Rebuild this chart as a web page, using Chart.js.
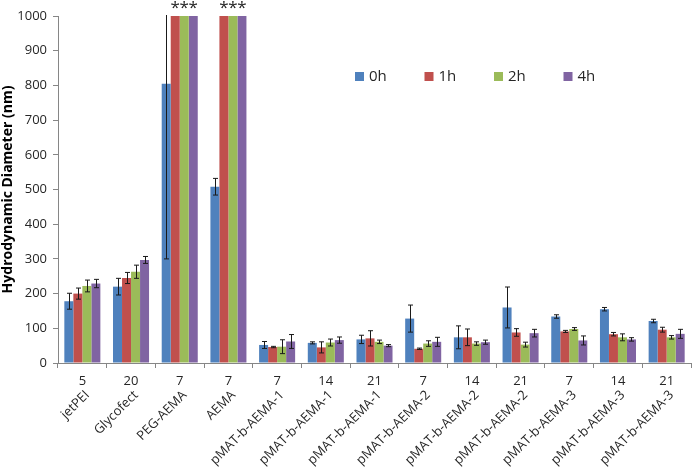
<!DOCTYPE html>
<html>
<head>
<meta charset="utf-8">
<title>Hydrodynamic Diameter</title>
<script src="https://cdn.jsdelivr.net/npm/chart.js"></script>
<style>
  html, body { margin: 0; padding: 0; background: #fff; }
  #wrap { width: 692px; height: 470px; }
</style>
</head>
<body>
<div id="wrap"><canvas id="grafico" width="692" height="470"></canvas></div>
<script>
// dados
const categorias = ['jetPEI', 'Glycofect', 'PEG-AEMA', 'AEMA',
  'pMAT-b-AEMA-1', 'pMAT-b-AEMA-1', 'pMAT-b-AEMA-1',
  'pMAT-b-AEMA-2', 'pMAT-b-AEMA-2', 'pMAT-b-AEMA-2',
  'pMAT-b-AEMA-3', 'pMAT-b-AEMA-3', 'pMAT-b-AEMA-3'];
const razoes = ['5', '20', '7', '7', '7', '14', '21', '7', '14', '21', '7', '14', '21'];

const h0 = [178, 220, 805, 508, 52, 58, 68, 128, 74, 160, 134, 155, 121];
const h1 = [200, 245, 1000, 1000, 46, 45, 71, 41, 74, 88, 91, 83, 96];
const h2 = [222, 263, 1000, 1000, 47, 59, 61, 56, 56, 53, 98, 74, 74];
const h4 = [229, 297, 1000, 1000, 62, 66, 50, 61, 60, 86, 65, 68, 84];

const e0 = [23, 24, 505, 24, 10, 3, 12, 39, 33, 59, 5, 5, 5];
const e1 = [16, 16, 0, 0, 2, 16, 22, 2, 24, 11, 3, 5, 7];
const e2 = [17, 19, 0, 0, 20, 10, 5, 8, 5, 7, 4, 10, 5];
const e4 = [12, 10, 0, 0, 20, 9, 3, 13, 6, 11, 13, 5, 13];

const yTicks = [0, 100, 200, 300, 400, 500, 600, 700, 800, 900, 1000];
const legendas = ['0h', '1h', '2h', '4h'];
const cores = ['#4F81BD', '#C0504D', '#9BBB59', '#8064A2'];

const series = [h0, h1, h2, h4];
const erros = [e0, e1, e2, e4];
const fonte = "'Open Sans', 'Liberation Sans', sans-serif";

// barras de erro
const errorBars = {
  id: 'errorBars',
  afterDatasetsDraw(chart) {
    const ctx = chart.ctx, y = chart.scales.y, area = chart.chartArea;
    ctx.save();
    ctx.beginPath();
    ctx.rect(area.left, area.top - 1, area.right - area.left, area.bottom - area.top + 2);
    ctx.clip();
    ctx.strokeStyle = '#1a1a1a';
    ctx.lineWidth = 1;
    series.forEach((s, i) => {
      const meta = chart.getDatasetMeta(i);
      meta.data.forEach((bar, j) => {
        const e = erros[i][j];
        if (!e) return;
        const x = Math.round(bar.x) + 0.5;
        const top = y.getPixelForValue(s[j] + e);
        const bot = y.getPixelForValue(s[j] - e);
        ctx.beginPath();
        ctx.moveTo(x, top); ctx.lineTo(x, bot);
        ctx.moveTo(x - 2.5, top); ctx.lineTo(x + 2.5, top);
        ctx.moveTo(x - 2.5, bot); ctx.lineTo(x + 2.5, bot);
        ctx.stroke();
      });
    });
    ctx.restore();
  }
};

// rótulos do eixo x, legenda e asteriscos
const extras = {
  id: 'extras',
  afterDraw(chart) {
    const ctx = chart.ctx, x = chart.scales.x, area = chart.chartArea;
    ctx.save();
    ctx.fillStyle = '#262626';
    categorias.forEach((c, j) => {
      const cx = x.getPixelForValue(j);
      ctx.font = '13px ' + fonte;
      ctx.textAlign = 'center';
      ctx.textBaseline = 'middle';
      ctx.fillText(razoes[j], cx, area.bottom + 18);
      ctx.save();
      ctx.translate(cx + 5, area.bottom + 30);
      ctx.rotate(-Math.PI / 4);
      ctx.textAlign = 'right';
      ctx.fillText(c, 0, 0);
      ctx.restore();
    });

    // asteriscos sobre as barras fora da escala
    ctx.font = '17px ' + fonte;
    ctx.textAlign = 'center';
    ctx.textBaseline = 'middle';
    series.forEach((s, i) => {
      const meta = chart.getDatasetMeta(i);
      s.forEach((v, j) => {
        if (v >= 1000) ctx.fillText('*', meta.data[j].x, area.top - 8);
      });
    });

    // legenda
    ctx.font = '15px ' + fonte;
    ctx.textAlign = 'left';
    legendas.forEach((l, i) => {
      const lx = 355 + i * 69.5;
      ctx.fillStyle = cores[i];
      ctx.fillRect(lx, 72, 9, 9);
      ctx.fillStyle = '#262626';
      ctx.fillText(l, lx + 14, 77);
    });
    ctx.restore();
  }
};

new Chart(document.getElementById('grafico').getContext('2d'), {
  type: 'bar',
  data: {
    labels: categorias.map((c, j) => [razoes[j], c]),
    datasets: series.map((s, i) => ({
      label: legendas[i],
      data: s,
      backgroundColor: cores[i],
      borderWidth: 0,
      barPercentage: 1.0,
      categoryPercentage: 0.74
    }))
  },
  options: {
    responsive: false,
    animation: false,
    layout: { padding: { top: 16, right: 1, left: 0, bottom: 0 } },
    plugins: { legend: { display: false }, tooltip: { enabled: false } },
    scales: {
      x: {
        ticks: { display: false },
        grid: { drawOnChartArea: false, tickLength: 5, color: '#868686', offset: true },
        border: { color: '#868686' },
        afterFit(scale) { scale.height = 107; }
      },
      y: {
        min: 0,
        max: 1000,
        afterBuildTicks(scale) { scale.ticks = yTicks.map(v => ({ value: v })); },
        ticks: {
          color: '#262626',
          font: { family: fonte, size: 13 },
          padding: 6,
          callback: v => String(v)
        },
        grid: { drawOnChartArea: false, tickLength: 5, color: '#868686' },
        border: { color: '#868686' },
        title: {
          display: true,
          text: 'Hydrodynamic Diameter (nm)',
          color: '#000',
          font: { family: fonte, size: 14, weight: 'bold' },
          padding: { top: 0, bottom: 2 }
        },
        afterFit(scale) { scale.width = 58; }
      }
    }
  },
  plugins: [errorBars, extras]
});
</script>
</body>
</html>
